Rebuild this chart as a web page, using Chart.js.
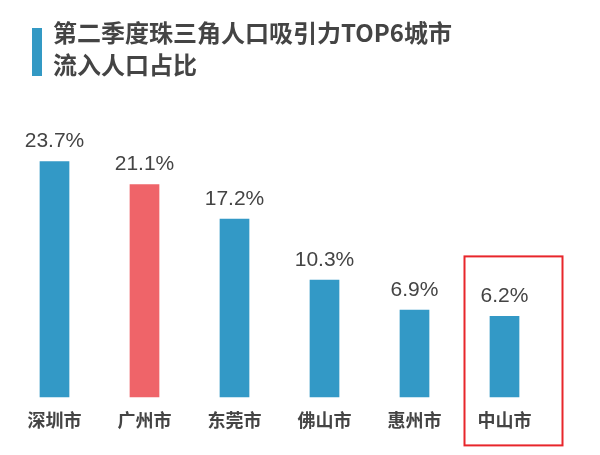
<!DOCTYPE html>
<html>
<head>
<meta charset="utf-8">
<script src="https://cdn.jsdelivr.net/npm/chart.js@4/dist/chart.umd.min.js"></script>
<style>
  html, body { margin: 0; padding: 0; background: #fff; }
  #wrap { position: relative; width: 600px; height: 455px; }
  #chart { position: absolute; left: 0; top: 0; }
  .title-bar { position: absolute; left: 32px; top: 28px; width: 10px; height: 48px; background: #3399c4; }
  .title {
    position: absolute; left: 53px; top: 16px;
    font-family: "Noto Sans CJK SC", sans-serif; font-weight: bold;
    font-size: 24px; line-height: 32px; color: #444;
  }
</style>
</head>
<body>
<div id="wrap">
  <canvas id="chart" width="600" height="455"></canvas>
  <div class="title-bar"></div>
  <div class="title">第二季度珠三角人口吸引力TOP6城市<br>流入人口占比</div>
</div>
<script>
// 数据
const cities = ["深圳市", "广州市", "东莞市", "佛山市", "惠州市", "中山市"];
const shares = [23.7, 21.1, 17.2, 10.3, 6.9, 6.2];
const barColors = ["#3399c6", "#ef6469", "#3399c6", "#3399c6", "#3399c6", "#3399c6"];
const highlightIndex = 5;

// 柱顶数值 + 中山市红框
const valueLabels = {
    id: "valueLabels",
    afterDatasetsDraw(chart) {
        const ctx = chart.ctx;
        const meta = chart.getDatasetMeta(0);
        ctx.save();
        ctx.font = '21px "Liberation Sans", Arial, sans-serif';
        ctx.fillStyle = "#444";
        ctx.textAlign = "center";
        ctx.textBaseline = "alphabetic";
        meta.data.forEach((bar, i) => {
            ctx.fillText(shares[i] + "%", bar.x, bar.y - 14);
        });

        // 红色框
        const x = chart.scales.x.getPixelForValue(highlightIndex);
        const bottom = chart.chartArea.bottom;
        ctx.strokeStyle = "#e8262b";
        ctx.lineWidth = 2;
        ctx.strokeRect(x - 40, bottom - 141, 98, 189);
        ctx.restore();
    }
};

new Chart(document.getElementById("chart"), {
    type: "bar",
    data: {
        labels: cities,
        datasets: [{
            data: shares,
            backgroundColor: barColors,
            borderWidth: 0,
            base: -3,
            categoryPercentage: 1,
            barPercentage: 0.33,
        }],
    },
    options: {
        responsive: false,
        animation: false,
        events: [],
        layout: { padding: { left: 9.5, right: 50.5, top: 110, bottom: 12 } },
        plugins: {
            legend: { display: false },
            tooltip: { enabled: false },
        },
        scales: {
            x: {
                grid: { display: false, drawTicks: false },
                border: { display: false },
                ticks: {
                    padding: 12,
                    color: "#444",
                    font: { family: '"Noto Sans CJK SC", sans-serif', size: 18, weight: "bold" },
                },
            },
            y: {
                display: false,
                min: -3,
                max: 29.5,
            },
        },
    },
    plugins: [valueLabels],
});
</script>
</body>
</html>
